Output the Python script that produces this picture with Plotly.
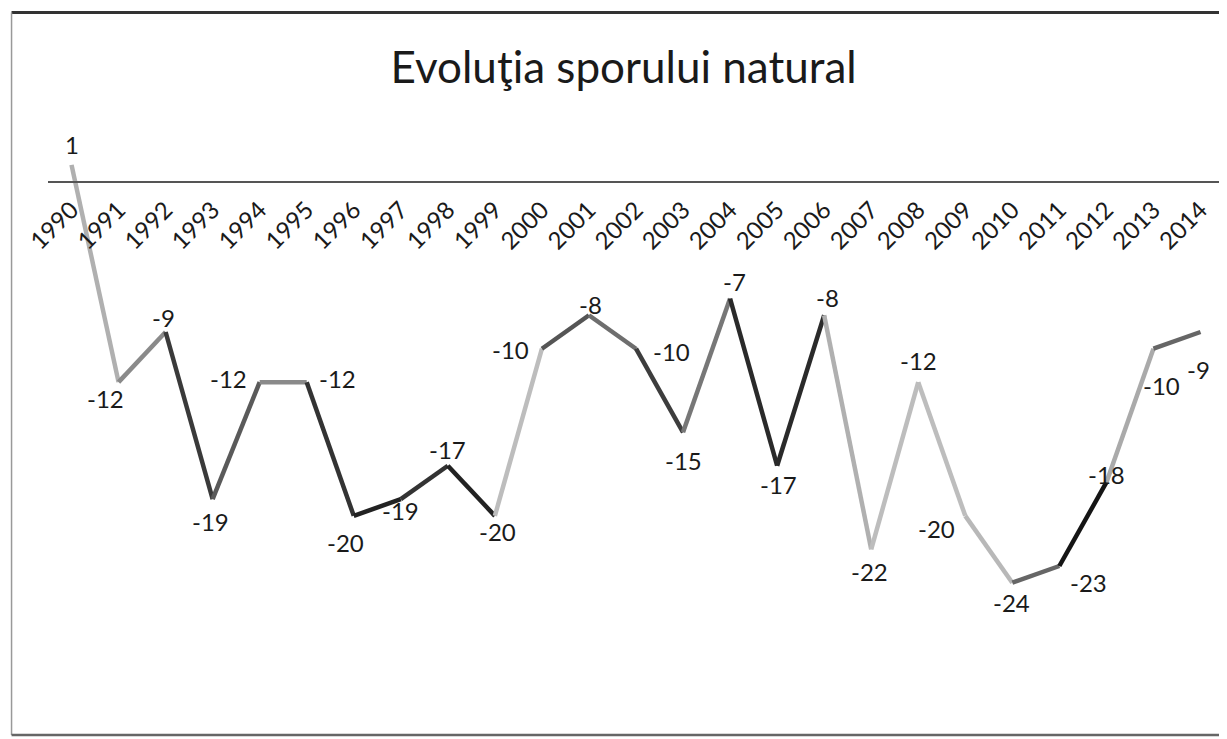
import plotly.graph_objects as go

years = [str(y) for y in range(1990, 2015)]
values = [1, -12, -9, -19, -12, -12, -20, -19, -17, -20, -10, -8, -10, -15, -7,
          -17, -8, -22, -12, -20, -24, -23, -18, -10, -9]
labels = [str(v) for v in values]

# style only: scanned segment shades and label offsets (px)
seg_colors = ["#b0b0b0", "#8a8a8a", "#3a3a3a", "#5a5a5a", "#8a8a8a", "#333333",
              "#222222", "#333333", "#222222", "#bdbdbd", "#555555", "#6e6e6e",
              "#3d3d3d", "#777777", "#2a2a2a", "#2a2a2a", "#b0b0b0", "#bdbdbd",
              "#bdbdbd", "#b8b8b8", "#666666", "#151515", "#aaaaaa", "#666666"]
label_dx = [0, -13, -2, -2, -31, 31, -8, 0, 0, 3, -31, 2, 35, 0, 4,
            1, 3, -2, 0, -29, -1, 29, 0, 8, -2]
label_dy = [-20, 16, -15, 22, -4, -4, 27, 11, -16, 16, 1, -11, 3, 28, -17,
            19, -18, 22, -22, 13, 20, 16, -8, 37, 37]

x_idx = list(range(len(years)))
fig = go.Figure()
for i in range(len(values) - 1):
    fig.add_trace(go.Scatter(
        x=x_idx[i:i + 2], y=values[i:i + 2], mode="lines",
        line=dict(color=seg_colors[i], width=4.5), hoverinfo="skip", showlegend=False))

for i, (v, t) in enumerate(zip(values, labels)):
    fig.add_annotation(x=x_idx[i], y=v, text=t, showarrow=False,
                       xshift=label_dx[i], yshift=-label_dy[i],
                       font=dict(family="Lato", size=24, color="#1a1a1a"))

fig.update_layout(
    width=1219, height=731,
    margin=dict(l=40, r=3, t=90, b=56),
    paper_bgcolor="white", plot_bgcolor="white",
    title=dict(text="Evoluţia sporului natural", x=0.505, xanchor="center",
               y=0.918, yanchor="middle",
               font=dict(family="Lato", size=44, color="#1a1a1a")),
    xaxis=dict(range=[-0.5, 24.5], tickmode="array", tickvals=x_idx, ticktext=years,
               tickangle=-45, anchor="free", position=30 / 35, side="bottom",
               showline=True, linecolor="#555555", linewidth=1.5, ticks="outside",
               ticklen=4, tickcolor="rgba(0,0,0,0)",
               showgrid=False, zeroline=False,
               tickfont=dict(family="Lato", size=24, color="#1a1a1a")),
    yaxis=dict(range=[-30, 5], visible=False, showgrid=False, zeroline=False),
)

# chart frame
fig.add_shape(type="line", xref="paper", yref="paper", x0=-0.031, x1=1.01, y0=1.146, y1=1.146,
              line=dict(color="#333333", width=3))
fig.add_shape(type="line", xref="paper", yref="paper", x0=-0.031, x1=-0.031, y0=1.146, y1=-0.089,
              line=dict(color="#999999", width=1.5))
fig.add_shape(type="line", xref="paper", yref="paper", x0=-0.031, x1=1.01, y0=-0.089, y1=-0.089,
              line=dict(color="#666666", width=2.5))

fig.write_html("out.html")
